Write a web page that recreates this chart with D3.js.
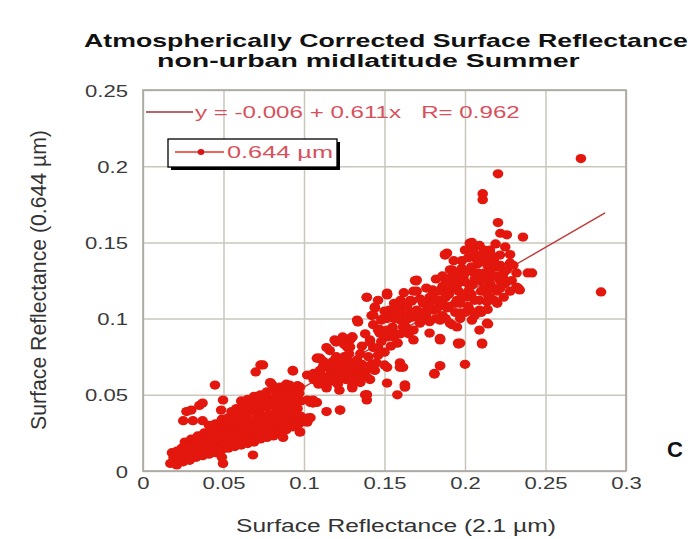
<!DOCTYPE html>
<html><head><meta charset="utf-8">
<script src="https://cdn.jsdelivr.net/npm/d3@7"></script>
<style>
html,body{margin:0;padding:0;background:#fff;}
svg{display:block;}
text{font-family:"Liberation Sans",Arial,Helvetica,sans-serif;}
</style></head>
<body><svg id="c" width="696" height="539"></svg>
<script>
// ---------------- data ----------------
const titleLines = ["Atmospherically Corrected Surface Reflectance", "non-urban midlatitude Summer"];
const xLabel = "Surface Reflectance (2.1 \u00b5m)";
const yLabel = "Surface Reflectance (0.644 \u00b5m)";
const xTicks = [0, 0.05, 0.1, 0.15, 0.2, 0.25, 0.3];
const xTickLabels = ["0", "0.05", "0.1", "0.15", "0.2", "0.25", "0.3"];
const yTicks = [0, 0.05, 0.1, 0.15, 0.2, 0.25];
const yTickLabels = ["0", "0.05", "0.1", "0.15", "0.2", "0.25"];
const fitIntercept = -0.006, fitSlope = 0.611, fitR = 0.962;
const fitRange = [0.017, 0.287];
const seriesName = "0.644 \u00b5m";
const fitText = "y = -0.006 + 0.611x\u00a0\u00a0\u00a0R= 0.962";
const panelLetter = "C";

// [2.1 um reflectance, 0.644 um reflectance]
const lowCluster = [
 [.017,.005],[.019,.009],[.018,.012],[.021,.004],[.022,.008],[.021,.013],
 [.025,.006],[.026,.010],[.024,.015],[.026,.019],[.029,.007],[.030,.012],[.028,.017],[.030,.021],
 [.033,.009],[.034,.013],[.032,.018],[.034,.023],[.037,.010],[.038,.015],[.036,.020],[.038,.025],
 [.041,.011],[.042,.016],[.040,.021],[.042,.026],[.041,.030],
 [.045,.012],[.046,.017],[.044,.022],[.046,.027],[.045,.031],
 [.049,.014],[.050,.019],[.048,.024],[.050,.029],[.049,.034],
 [.053,.015],[.054,.020],[.052,.025],[.054,.030],[.053,.035],[.055,.039],
 [.057,.016],[.058,.021],[.056,.026],[.058,.031],[.057,.036],[.058,.041],
 [.061,.017],[.062,.022],[.060,.027],[.062,.032],[.061,.037],[.062,.042],[.061,.046],
 [.065,.018],[.066,.023],[.064,.028],[.066,.033],[.065,.038],[.066,.043],[.065,.047],
 [.069,.019],[.070,.024],[.068,.029],[.070,.034],[.069,.039],[.070,.044],[.069,.049],
 [.073,.021],[.074,.026],[.072,.031],[.074,.036],[.073,.041],[.074,.046],[.073,.050],
 [.077,.022],[.078,.027],[.076,.032],[.078,.037],[.077,.042],[.078,.047],[.077,.052],
 [.081,.023],[.082,.028],[.080,.033],[.082,.038],[.081,.043],[.082,.048],[.081,.053],[.080,.057],
 [.085,.025],[.086,.030],[.084,.035],[.086,.040],[.085,.045],[.086,.050],[.085,.055],
 [.089,.027],[.090,.032],[.088,.037],[.090,.042],[.089,.047],[.090,.052],[.089,.057],
 [.093,.029],[.094,.034],[.092,.039],[.094,.044],[.093,.049],[.094,.054],
 [.097,.031],[.098,.036],[.096,.041],[.098,.046],[.097,.051],[.096,.056],
 [.023,.011],[.027,.014],[.031,.016],[.035,.018],[.039,.019],[.043,.020],[.047,.021],[.051,.023],
 [.055,.024],[.059,.025],[.063,.026],[.067,.027],[.071,.028],[.075,.030],[.079,.031],[.083,.033],
 [.087,.034],[.091,.036],[.095,.038],[.045,.025],[.051,.032],[.057,.033],[.063,.035],[.067,.040],
 [.071,.042],[.075,.044],[.079,.045],[.083,.046],[.087,.049],[.091,.050],[.060,.039],[.084,.052],
 [.027,.039],[.031,.033],[.030,.040],[.035,.043],[.025,.033],[.037,.033],[.037,.0446],
 [.0447,.0564],[.0497,.0466],[.0485,.040],[.049,.009],[.0497,.005],[.0683,.0105],
 [.073,.0696],[.070,.065],[.093,.066],[.079,.058],[.091,.0564],[.0975,.055],
 [.101,.0335],[.0975,.0256],[.087,.022],[.104,.045],[.108,.045],[.104,.035],[.102,.032]
];
const midCluster = [
 [.106,.060],[.110,.064],[.113,.059],[.116,.067],[.119,.062],[.122,.070],[.124,.065],[.126,.060],
 [.128,.072],[.131,.067],[.133,.062],[.136,.070],[.138,.065],[.141,.060],[.118,.072],[.112,.069],
 [.125,.075],[.135,.077],[.130,.056],[.121,.057],[.102,.063],[.108,.061],[.114,.0545],[.122,.053],
 [.130,.0545],[.135,.058],[.139,.0617],[.145,.071],[.150,.0696],[.1596,.071],[.1516,.0577],
 [.158,.050],[.139,.0466],[.102,.0466],[.1056,.0466],[.110,.074],[.116,.079],[.1286,.0814],
 [.1286,.086],[.120,.0846],[.141,.086],[.146,.0925],[.1516,.088],[.158,.084],[.155,.0945],
 [.160,.099],[.1596,.1076],[.153,.1056],[.144,.1076],[.142,.102],[.1335,.098],[.124,.088],
 [.114,.081],[.127,.081],[.127,.071],[.143,.081],[.147,.0905],[.155,.1037],[.139,.114],
 [.1516,.1155],[.130,.088],[.1516,.068],[.1615,.068],[.108,.074],[.110,.066],[.114,.039],
 [.1224,.040],[.139,.050],[.1056,.0446],[.1025,.0348],[.1627,.0564],[.144,.107],[.143,.1024],
 [.110,.060],[.114,.056],[.108,.063],[.0932,.0656],[.0745,.0696],
 [.169,.125],[.1516,.116],[.167,.1115],[.133,.099],[.1516,.100],[.119,.086],[.1286,.087],
 [.141,.0846],[.147,.093],[.155,.0925],[.146,.081],[.1087,.074],[.1845,.069],[.181,.064],
 [.1627,.055],[.138,.050],[.1845,.087],[.1596,.068],
 [.117,.064],[.123,.061],[.129,.064],[.134,.066],[.120,.067],[.127,.067],[.115,.061],[.132,.070],
 [.106,.064],[.109,.057],[.112,.062],[.115,.070],[.118,.059],[.121,.064],[.124,.069],[.127,.063],
 [.130,.061],[.133,.073],[.136,.062],[.139,.068],[.142,.070],[.144,.066],[.112,.072],[.120,.075],
 [.128,.077],[.140,.075],[.146,.076],[.150,.078],[.148,.085],[.154,.082],[.156,.088],[.160,.090],
 [.163,.095],[.165,.100],[.136,.082],[.125,.083],[.138,.090],[.143,.096],[.148,.099],
 [.150,.105],[.156,.110],[.160,.112],[.162,.117],[.146,.112],[.165,.090]
];
const highCluster = [
 [.226,.155],[.236,.1535],[.203,.1496],[.209,.148],[.2155,.145],[.2217,.1417],[.1888,.143],
 [.211,.138],[.228,.1365],[.220,.134],[.232,.130],[.239,.130],[.192,.132],[.170,.1253],
 [.205,.1306],[.199,.127],[.209,.125],[.203,.121],[.2155,.123],[.2217,.125],[.229,.125],
 [.232,.120],[.195,.122],[.186,.121],[.180,.1188],[.1888,.1168],[.178,.114],[.183,.112],
 [.174,.110],[.170,.1056],[.166,.112],[.1516,.1168],[.155,.1056],[.149,.100],[.1596,.100],
 [.168,.101],[.1615,.0945],[.1516,.0925],[.195,.112],[.201,.114],[.209,.112],[.2155,.114],
 [.220,.110],[.203,.1056],[.209,.1056],[.197,.1037],[.189,.107],[.180,.1056],[.176,.101],
 [.1845,.099],[.1907,.097],[.197,.100],[.2043,.099],[.2137,.111],[.172,.097],[.168,.0925],
 [.195,.0945],[.1845,.086],[.197,.084],[.2137,.097],[.209,.0925],[.168,.086],[.178,.0905],
 [.222,.156],[.2043,.150],[.1876,.1417],[.1907,.132],[.2416,.130],[.232,.1207],[.234,.1188],
 [.1957,.084],[.2106,.084],
 [.176,.105],[.180,.112],[.184,.118],[.188,.124],[.192,.128],[.196,.118],[.200,.124],[.204,.116],
 [.208,.130],[.212,.120],[.216,.127],[.220,.118],[.224,.130],[.214,.135],[.198,.133],[.190,.108],
 [.186,.102],[.194,.104],[.202,.108],[.210,.104],[.218,.112],[.206,.140],[.212,.145],[.200,.145],
 [.193,.138],[.182,.126],[.172,.113],[.168,.118],[.164,.108],[.178,.098],[.192,.096],[.225,.123],
 [.228,.142],[.219,.149],[.205,.123],[.197,.110],
 [.172,.104],[.176,.110],[.180,.116],[.184,.108],[.188,.114],[.192,.120],[.196,.126],[.200,.130],
 [.204,.134],[.208,.136],[.212,.130],[.216,.132],[.220,.128],[.224,.126],[.222,.120],[.218,.120],
 [.214,.116],[.210,.118],[.206,.112],[.202,.118],[.198,.114],[.194,.110],[.190,.116],[.186,.112],
 [.182,.106],[.178,.108],[.186,.128],[.190,.124],[.194,.130],[.198,.138],[.202,.140],[.210,.142],
 [.214,.140],[.218,.138],[.222,.135],[.226,.132],[.206,.126],[.212,.126],[.200,.104],[.206,.102],
 [.214,.106],[.188,.100],[.182,.100],[.174,.100],[.166,.104],[.162,.100],[.170,.118],[.176,.120],
 [.160,.104],[.156,.100],[.205,.145],[.216,.142],[.225,.147],[.230,.135],[.224,.114],[.228,.118]
];
const outliers = [
 [.272,.205],[.2845,.1175],[.2205,.195],[.211,.182],[.211,.178],[.2205,.163],[.233,.120],
 [.1876,.142],[.1696,.1247],[.139,.114],[.2106,.0833],[.196,.0833],[.1845,.0866],[.200,.070],
 [.1845,.069],[.181,.0636],[.1627,.0564],[.2143,.0965],[.1335,.0978],[.110,.066],[.1224,.040],
 [.139,.050],[.0975,.0256],[.130,.088],[.158,.084]
];

// ---------------- layout ----------------
const svg = d3.select("#c");
const L = 143, R = 626, T = 90, B = 471;
const sx = 1.3; // horizontal stretch of the original figure
const x = d3.scaleLinear().domain([0, 0.3]).range([L, R]);
const y = d3.scaleLinear().domain([0, 0.25]).range([B, T]);
const dotColor = "#e3170d";
const textRed = "#d9505c";

svg.append("rect").attr("width", 696).attr("height", 539).attr("fill", "#fff");

function fitted(x0, y0, str, size, w, opts = {}) {
  const t = svg.append("text").text(str).attr("font-size", size)
    .attr("fill", opts.fill || "#333").attr("font-weight", opts.weight || "normal");
  const n = t.node().getComputedTextLength();
  const k = w / n;
  if (opts.rotate) {
    t.attr("text-anchor", "middle")
     .attr("transform", `translate(${x0},${y0}) scale(${opts.sxr || 1},1) rotate(-90) scale(${k},1)`);
  } else {
    t.attr("transform", `translate(${x0},${y0}) scale(${k},1)`);
  }
  return t;
}

// gridlines
const grid = svg.append("g");
grid.append("g").attr("transform", `translate(0,${B})`)
  .call(d3.axisBottom(x).tickValues(xTicks).tickSize(-(B - T)).tickFormat(""))
  .call(g => g.select(".domain").remove())
  .call(g => g.selectAll("line").attr("stroke", "#c9c7bb").attr("stroke-width", 1.5));
grid.append("g").attr("transform", `translate(${L},0)`)
  .call(d3.axisLeft(y).tickValues(yTicks).tickSize(-(R - L)).tickFormat(""))
  .call(g => g.select(".domain").remove())
  .call(g => g.selectAll("line").attr("stroke", "#c9c7bb").attr("stroke-width", 1.5));

// frame
svg.append("rect").attr("x", L).attr("y", T).attr("width", R - L).attr("height", B - T)
  .attr("fill", "none").attr("stroke", "#a8a6a0").attr("stroke-width", 1.6);

// tick labels
const xAx = svg.append("g").attr("transform", `translate(0,${B})`)
  .call(d3.axisBottom(x).tickValues(xTicks).tickSize(0).tickFormat((d, i) => xTickLabels[i]));
xAx.select(".domain").remove();
xAx.selectAll("text").attr("y", 18).attr("dy", 0).attr("fill", "#3a3a3a")
  .attr("font-size", 17).attr("transform", `scale(${sx},1)`)
  .attr("font-family", "Liberation Sans, Arial, sans-serif");
const yAx = svg.append("g").attr("transform", `translate(${L},0)`)
  .call(d3.axisLeft(y).tickValues(yTicks).tickSize(0).tickFormat((d, i) => yTickLabels[i]));
yAx.select(".domain").remove();
yAx.selectAll("text").attr("x", -15 / sx).attr("dy", "0.36em").attr("fill", "#3a3a3a")
  .attr("font-size", 17).attr("transform", `scale(${sx},1)`)
  .attr("font-family", "Liberation Sans, Arial, sans-serif");

// regression line (under the points)
svg.append("line")
  .attr("x1", x(fitRange[0])).attr("y1", y(fitIntercept + fitSlope * fitRange[0]))
  .attr("x2", x(fitRange[1])).attr("y2", y(fitIntercept + fitSlope * fitRange[1]))
  .attr("stroke", "#c03838").attr("stroke-width", 1.4);

// points
const allPts = lowCluster.concat(midCluster, highCluster, outliers);
svg.append("g").selectAll("ellipse").data(allPts).join("ellipse")
  .attr("cx", d => x(d[0])).attr("cy", d => y(d[1]))
  .attr("rx", 5.3).attr("ry", 4.6).attr("fill", dotColor);

// fit annotation
svg.append("line").attr("x1", 146).attr("x2", 193).attr("y1", 112).attr("y2", 112)
  .attr("stroke", "#9c3434").attr("stroke-width", 1.5);
fitted(195, 118, fitText, 17, 325, { fill: textRed });

// legend box
svg.append("rect").attr("x", 171).attr("y", 142).attr("width", 169).attr("height", 28).attr("fill", "#000");
svg.append("rect").attr("x", 168).attr("y", 139).attr("width", 169).attr("height", 28)
  .attr("fill", "#fff").attr("stroke", "#000").attr("stroke-width", 1.3);
svg.append("line").attr("x1", 175).attr("x2", 224).attr("y1", 152).attr("y2", 152)
  .attr("stroke", "#e8302a").attr("stroke-width", 1.6);
svg.append("ellipse").attr("cx", 201).attr("cy", 152).attr("rx", 3.4).attr("ry", 3)
  .attr("fill", "#d81818");
fitted(227, 158, seriesName, 17, 106, { fill: textRed });

// title
fitted(84, 47, titleLines[0], 18.5, 604, { fill: "#111", weight: "bold" });
fitted(157, 67, titleLines[1], 18.5, 423, { fill: "#111", weight: "bold" });

// axis titles
fitted(236, 532, xLabel, 18.5, 320, { fill: "#333" });
fitted(46, 280, yLabel, 17.5, 300, { fill: "#333", rotate: true, sxr: sx });

// panel letter
svg.append("text").attr("x", 667).attr("y", 457).text(panelLetter)
  .attr("font-size", 22).attr("font-weight", "bold").attr("fill", "#111");
</script></body></html>
